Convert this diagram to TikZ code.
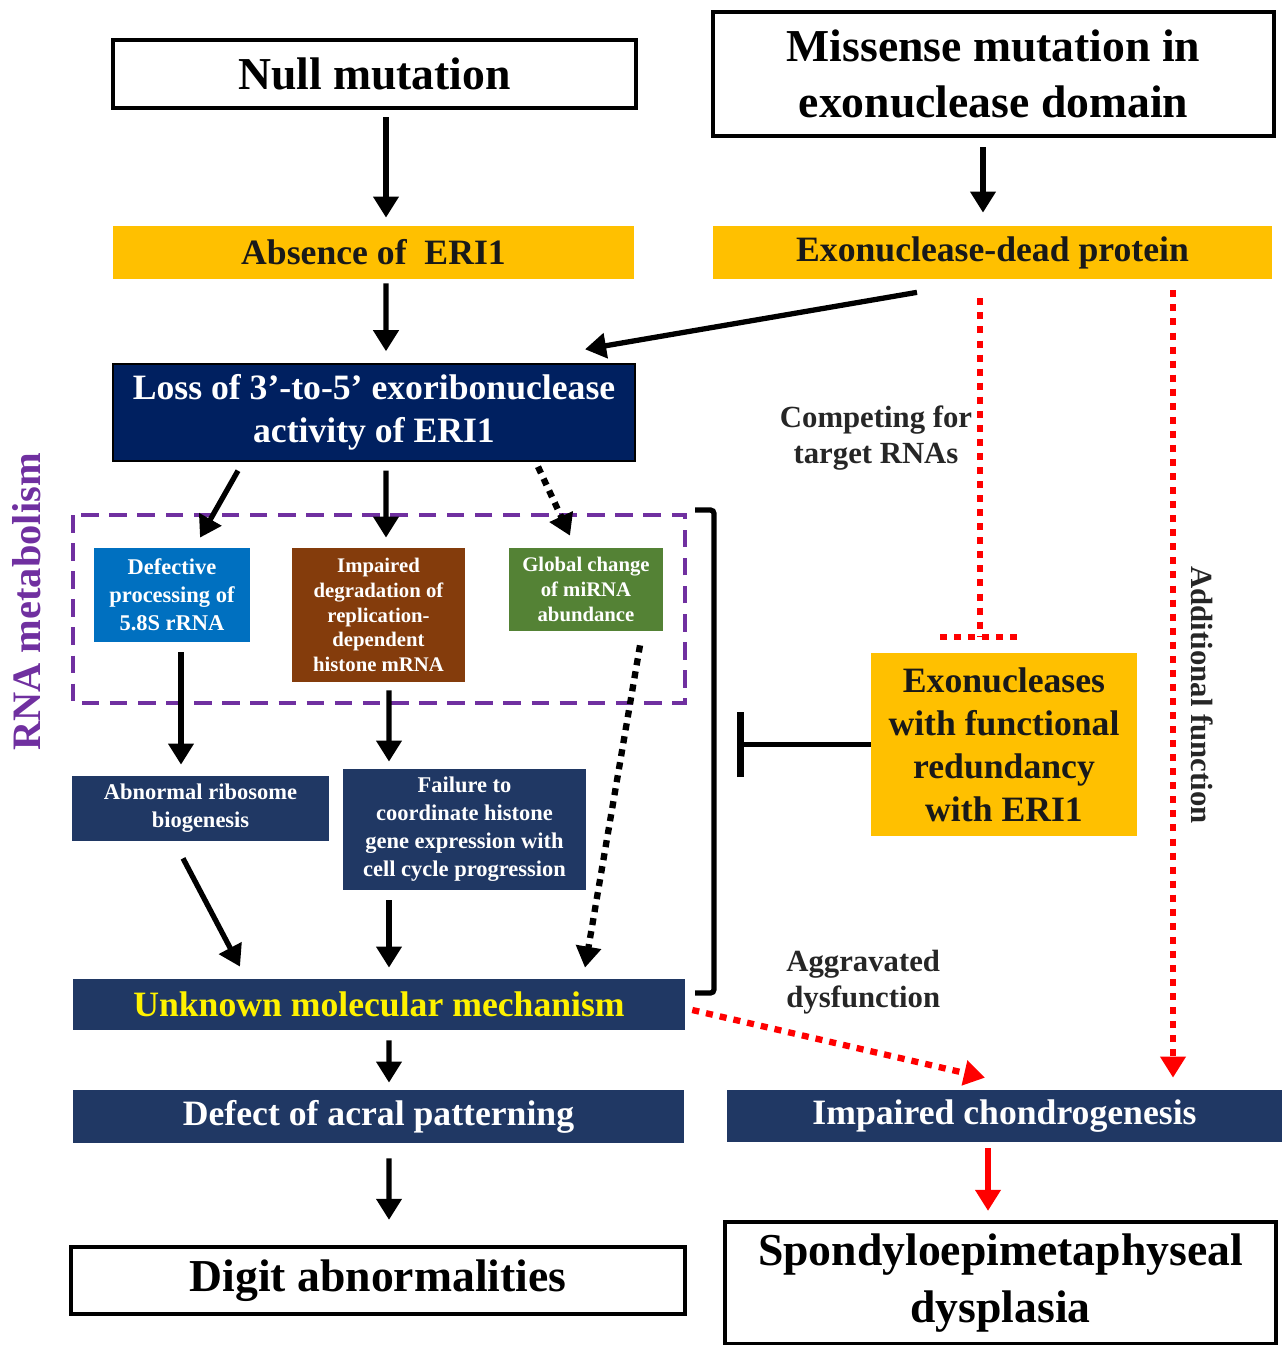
\documentclass[tikz,border=0pt]{standalone}
\usepackage{fontspec}
\setmainfont{Liberation Serif}
\usetikzlibrary{arrows.meta,calc}
\definecolor{eriorange}{HTML}{FFC000}
\definecolor{erinavy}{HTML}{002060}
\definecolor{eridark}{HTML}{203864}
\definecolor{eriblue}{HTML}{0070C0}
\definecolor{eribrown}{HTML}{843C0C}
\definecolor{erigreen}{HTML}{548235}
\definecolor{eripurple}{HTML}{7030A0}

\begin{document}
\begin{tikzpicture}[x=0.02cm,y=-0.02cm,>={Triangle[length=12pt,width=14pt]},
  bigtext/.style={font=\fontsize{26}{32}\selectfont\bfseries},
  midtext/.style={font=\fontsize{20.3}{24.5}\selectfont\bfseries},
  smalltext/.style={font=\fontsize{12.8}{16}\selectfont\bfseries},
  tinytext/.style={font=\fontsize{11.8}{14}\selectfont\bfseries},
  labeltext/.style={font=\fontsize{17.5}{20.5}\selectfont\bfseries,text=black!85,align=center,inner sep=0pt},
  outerbox/.style={bigtext,draw=black,line width=2.4pt,align=center,inner sep=0pt},
  yellowbox/.style={midtext,fill=eriorange,text=black!90,align=center,inner sep=0pt},
  navybox/.style={fill=eridark,text=white,align=center,inner sep=0pt},
  colorbox/.style={smalltext,text=white,align=center,inner sep=0pt},
  arr/.style={->,line width=3pt},
  dotarr/.style={->,line width=3.6pt,dash pattern=on 4pt off 3.5pt},
  reddot/.style={red,line width=3.6pt,dash pattern=on 4pt off 4pt},
  redarr/.style={->,reddot},
  inhibit/.style={-{Bar[width=37pt,line width=4pt]},line width=3pt}]
\useasboundingbox (0,0) rectangle (1282,1345);

% top row
\node[outerbox,minimum width=10.46cm,minimum height=1.36cm] (null) at (374.5,74) {Null mutation};
\node[outerbox,minimum width=11.22cm,minimum height=2.48cm] (missense) at (993.5,74) {Missense mutation in\\exonuclease domain};
\node[yellowbox,minimum width=10.42cm,minimum height=1.06cm] (absence) at (373.5,252.5) {Absence of\ \ ERI1};
\node[yellowbox,minimum width=11.18cm,minimum height=1.06cm] (exodead) at (992.5,252.5) {Exonuclease-dead protein};
\node[navybox,midtext,fill=erinavy,draw=black,line width=0.8pt,minimum width=10.44cm,minimum height=1.94cm] (loss) at (374,412.5) {Loss of 3’-to-5’ exoribonuclease\\activity of ERI1};

% RNA metabolism
\draw[eripurple,line width=2pt,dash pattern=on 10pt off 6pt] (73,515) rectangle (685,703);
\node[font=\fontsize{23}{28}\selectfont\bfseries,text=eripurple,rotate=90] (rnalabel) at (27,602) {RNA metabolism};
\node[colorbox,fill=eriblue,minimum width=3.12cm,minimum height=1.88cm] (defective) at (172,595) {Defective\\processing of\\5.8S rRNA};
\node[colorbox,tinytext,fill=eribrown,minimum width=3.46cm,minimum height=2.68cm] (histone) at (378.5,615) {Impaired\\degradation of\\replication-\\dependent\\histone mRNA};
\node[colorbox,tinytext,fill=erigreen,minimum width=3.08cm,minimum height=1.66cm] (mirna) at (586,589.5) {Global change\\of miRNA\\abundance};
\node[navybox,smalltext,minimum width=5.14cm,minimum height=1.3cm] (ribosome) at (200.5,808.5) {Abnormal ribosome\\biogenesis};
\node[navybox,smalltext,minimum width=4.86cm,minimum height=2.42cm] (failure) at (464.5,829.5) {Failure to\\coordinate histone\\gene expression with\\cell cycle progression};

% bottom
\node[navybox,midtext,text=yellow,minimum width=12.24cm,minimum height=1.02cm] (unknown) at (379,1004.5) {Unknown molecular mechanism};
\node[navybox,midtext,minimum width=12.22cm,minimum height=1.06cm] (acral) at (378.5,1116.5) {Defect of acral patterning};
\node[outerbox,minimum width=12.28cm,minimum height=1.34cm] (digit) at (378,1280.5) {Digit abnormalities};
\node[navybox,midtext,minimum width=11.1cm,minimum height=1.04cm] (chondro) at (1004.5,1116) {Impaired chondrogenesis};
\node[outerbox,minimum width=11.02cm,minimum height=2.44cm] (sed) at (1000.5,1283) {Spondyloepimetaphyseal\\dysplasia};

% right side
\node[yellowbox,minimum width=5.32cm,minimum height=3.66cm] (redundant) at (1004,744.5) {Exonucleases\\with functional\\redundancy\\with ERI1};
\node[labeltext] (competing) at (876,438) {Competing for\\target RNAs};
\node[labeltext,align=left,anchor=west] (aggravated) at (786,982) {Aggravated\\dysfunction};
\node[labeltext,rotate=-90] (additional) at (1202,695) {Additional function};

\draw[arr] ($(null.south)+(11.5,7)$) -- ($(absence.north)+(12.5,-8)$);
\draw[arr] ($(missense.south)+(-10.5,9)$) -- ($(exodead.north)+(-9.5,-13)$);
\draw[arr] ($(absence.south)+(12.5,4)$) -- ($(loss.north)+(12,-12)$);
\draw[arr] ($(exodead.south)+(-75.5,13)$) -- ($(loss.north)+(211,-14)$);
\draw[arr] ($(loss.south)+(-136,9)$) -- ($(defective.north)+(28,-10)$);
\draw[arr] ($(loss.south)+(12,9)$) -- ($(histone.north)+(7.5,-10)$);
\draw[dotarr] ($(loss.south)+(164,5)$) -- ($(mirna.north)+(-16,-12)$);
\draw[arr] ($(defective.south)+(9,10)$) -- ($(ribosome.north)+(-19.5,-11)$);
\draw[arr] ($(histone.south)+(10.5,8)$) -- ($(failure.north)+(-75.5,-7)$);
\draw[dotarr] ($(mirna.south)+(54,14)$) -- ($(unknown.north)+(206,-11)$);
\draw[arr] ($(ribosome.south)+(-17.5,17)$) -- ($(unknown.north)+(-139,-12)$);
\draw[arr] ($(failure.south)+(-75.5,10)$) -- ($(unknown.north)+(10,-11)$);
\draw[arr] ($(unknown.south)+(10,10)$) -- ($(acral.north)+(10.5,-7)$);
\draw[arr] ($(acral.south)+(10.5,15)$) -- ($(digit.north)+(11,-25)$);
\draw[arr,red] ($(chondro.south)+(-16.5,6)$) -- ($(sed.north)+(-12.5,-9)$);
\draw[redarr] ($(unknown.east)+(7,5.5)$) -- ($(chondro.north)+(-19.5,-12)$);
\draw[redarr] ($(exodead.south)+(180.5,11)$) -- ($(chondro.north)+(168.5,-12)$);

% competition and redundancy
\coordinate (compete) at ($(redundant.north)+(-24,-16)$);
\draw[reddot] ($(exodead.south)+(-12.5,19)$) -- (compete);
\draw[reddot] ($(compete)+(-40,0)$) -- ($(compete)+(42,0)$);
\draw[line width=3pt,rounded corners=2pt] (695,510) -- (714,510) -- (714,993) -- (695,993);
\draw[inhibit] (redundant.west) -- ($(redundant.west)+(-134,0)$);
\end{tikzpicture}
\end{document}
